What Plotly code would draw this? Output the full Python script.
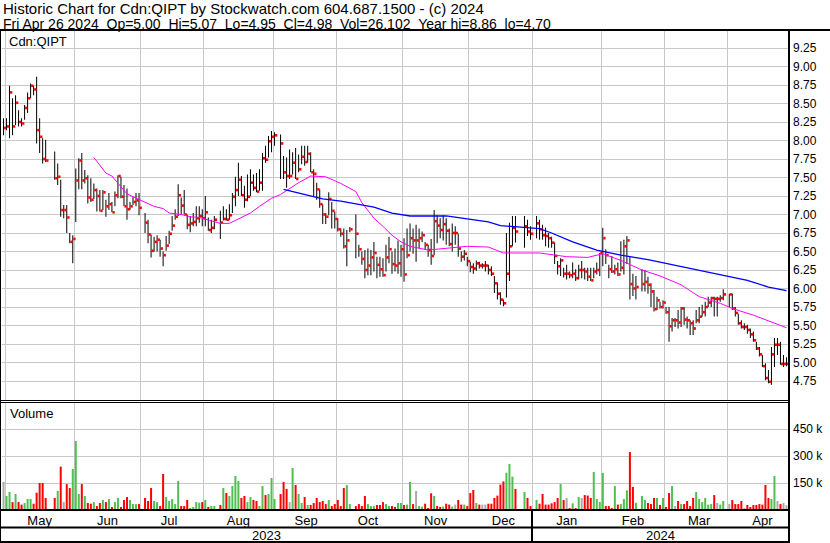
import pandas as pd
import plotly.graph_objects as go

# ---------------- data ----------------
holidays = ["2023-05-22", "2023-07-03", "2023-08-07", "2023-09-04", "2023-10-09",
            "2023-12-25", "2023-12-26", "2024-01-01", "2024-02-19", "2024-03-29"]
trade_days = [d for d in pd.bdate_range("2023-04-28", "2024-04-26")
              if d.strftime("%Y-%m-%d") not in holidays]

high = [
    8.30,
    8.30, 8.74, 8.57, 8.61, 8.41, 8.30, 8.48, 8.65, 8.77, 8.74, 8.86, 8.30, 8.03, 8.01, None, 7.85, 7.69, 7.47, 7.13, 7.13, 6.75, 6.72,
    7.62, 7.76, 7.83, 7.60, 7.53, 7.49, 7.42, 7.35, 7.33, 7.33, 7.20, 7.29, 7.17, 7.31, 7.53, 7.51, 7.40, 7.35, 7.17, 7.24, 7.29, 7.29,
    7.02, 6.93, 6.73, 6.70, 6.72, 6.66, 6.50, 6.71, 6.78, 6.98, 7.07, 7.41, 7.23, 7.33, 7.00, 6.98, 7.02, 7.11, 7.11, 7.07,
    7.25, 6.96, 6.93, 6.98, 7.05, 7.11, 7.07, 7.14, 7.29, 7.51, 7.70, 7.52, 7.39, 7.54, 7.61, 7.54, 7.56, 7.61, 7.83, 7.93, 8.06, 8.13,
    8.11, 8.08, 7.79, 7.77, 7.88, 7.84, 7.90, 7.81, 7.93, 7.93, 7.93, 7.84, 7.61, 7.43, 7.34, 7.14, 7.02, 7.30, 7.17, 7.04,
    6.95, 6.81, 6.81, 6.79, 6.83, 7.00, 6.59, 6.50, 6.52, 6.54, 6.52, 6.63, 6.43, 6.43, 6.41, 6.59, 6.70, 6.50, 6.54, 6.65, 6.59,
    6.68, 6.81, 6.88, 6.81, 6.86, 6.81, 6.77, 6.63, 6.59, 6.67, 7.06, 6.99, 6.95, 6.99, 6.95, 6.81, 6.88, 6.84, 6.74, 6.50, 6.52, 6.43,
    6.36, 6.34, 6.38, 6.36, 6.34, 6.37, 6.32, 6.30, 6.17, 6.08, 5.95, 5.85, 6.75, 6.89, 6.98, 6.98, 6.98, 6.93, 6.84,
    6.98, 6.93, 6.86, 6.82, 6.75, 6.70, 6.62, 6.37, 6.41, 6.28, 6.32, 6.23, 6.35, 6.26, 6.32, 6.37, 6.28, 6.28, 6.28, 6.28, 6.35, 6.48,
    6.82, 6.53, 6.32, 6.44, 6.32, 6.35, 6.64, 6.66, 6.71, 6.44, 6.20, 6.17, 6.26, 6.25, 6.16, 6.07, 5.98, 5.89, 5.82, 5.84,
    5.75, 5.75, 5.60, 5.60, 5.71, 5.75, 5.75, 5.62, 5.57, 5.57, 5.71, 5.75, 5.78, 5.82, 5.89, 5.89, 5.89, 5.89, 5.91, 5.99,
    5.93, 5.93, 5.75, 5.66, 5.57, 5.53, 5.51, 5.46, 5.42, 5.28, 5.21, 5.10, 4.99, 4.90, 5.21, 5.33, 5.33, 5.28, 5.10, 5.07,
]
low = [
    8.07,
    8.14, 8.03, 8.07, 8.21, 8.19, 8.19, 8.28, 8.37, 8.57, 8.61, 7.96, 7.83, 7.69, 7.71, None, 7.47, 7.40, 6.97, 6.95, 6.75, 6.61, 6.34,
    6.90, 7.34, 7.34, 7.42, 7.15, 7.17, 7.21, 7.04, 7.04, 7.06, 6.97, 7.06, 7.03, 7.11, 7.22, 7.22, 7.11, 6.93, 7.06, 7.13, 7.11, 6.99,
    6.75, 6.61, 6.42, 6.50, 6.50, 6.43, 6.30, 6.51, 6.60, 6.78, 6.93, 6.98, 7.00, 7.00, 6.80, 6.76, 6.84, 6.84, 6.89, 6.84,
    6.84, 6.78, 6.75, 6.80, 6.67, 6.92, 6.92, 6.93, 7.02, 7.11, 7.25, 7.25, 7.09, 7.18, 7.25, 7.32, 7.30, 7.32, 7.32, 7.70, 7.77, 7.84,
    7.93, 7.48, 7.48, 7.36, 7.48, 7.54, 7.48, 7.57, 7.68, 7.66, 7.70, 7.57, 7.25, 7.20, 7.09, 6.87, 6.87, 6.99, 6.81, 6.81,
    6.77, 6.70, 6.54, 6.30, 6.76, 6.41, 6.43, 6.32, 6.14, 6.18, 6.18, 6.23, 6.14, 6.16, 6.16, 6.23, 6.34, 6.20, 6.23, 6.20, 6.16,
    6.09, 6.41, 6.50, 6.47, 6.36, 6.54, 6.63, 6.52, 6.43, 6.32, 6.45, 6.61, 6.68, 6.65, 6.59, 6.57, 6.50, 6.59, 6.43, 6.36, 6.38, 6.30,
    6.22, 6.20, 6.24, 6.27, 6.27, 6.23, 6.19, 6.17, 5.94, 5.85, 5.78, 5.76, 5.88, 6.10, 6.57, 6.62, 6.55, 6.71, 6.66,
    6.68, 6.66, 6.66, 6.57, 6.55, 6.55, 6.33, 6.19, 6.17, 6.15, 6.12, 6.14, 6.14, 6.10, 6.12, 6.14, 6.12, 6.10, 6.10, 6.14, 6.19, 6.17,
    6.30, 6.33, 6.14, 6.21, 6.19, 6.17, 6.23, 6.19, 6.33, 5.85, 5.90, 5.85, 5.96, 5.96, 5.93, 5.75, 5.69, 5.71, 5.73, 5.73,
    5.66, 5.28, 5.42, 5.48, 5.46, 5.48, 5.51, 5.46, 5.37, 5.37, 5.53, 5.53, 5.62, 5.62, 5.75, 5.75, 5.62, 5.62, 5.82, 5.84,
    5.75, 5.71, 5.62, 5.51, 5.46, 5.44, 5.39, 5.33, 5.28, 5.17, 5.08, 4.94, 4.76, 4.72, 4.70, 4.94, 5.10, 4.97, 4.94, 4.95,
]
close = [
    8.17,
    8.19, 8.65, 8.19, 8.51, 8.25, 8.23, 8.44, 8.57, 8.74, 8.69, 8.14, 8.05, 7.75, 7.73, None, 7.49, 7.51, 7.06, 7.06, 6.96, 6.63, 6.67,
    7.46, 7.73, 7.46, 7.49, 7.23, 7.20, 7.33, 7.25, 7.05, 7.30, 7.11, 7.14, 7.03, 7.26, 7.52, 7.24, 7.11, 7.07, 7.11, 7.17, 7.19, 7.09,
    6.89, 6.73, 6.51, 6.63, 6.66, 6.54, 6.45, 6.58, 6.74, 6.85, 6.97, 7.26, 7.12, 7.00, 6.86, 6.88, 6.90, 6.95, 6.98, 6.95,
    7.03, 6.79, 6.82, 6.93, 6.89, 6.94, 6.93, 6.99, 7.24, 7.33, 7.47, 7.26, 7.20, 7.24, 7.43, 7.36, 7.31, 7.43, 7.76, 7.74, 7.99, 8.05,
    8.07, 7.96, 7.57, 7.52, 7.52, 7.70, 7.48, 7.61, 7.78, 7.71, 7.82, 7.57, 7.55, 7.34, 7.14, 7.00, 6.97, 7.21, 7.05, 6.94,
    6.80, 6.74, 6.57, 6.65, 6.80, 6.74, 6.53, 6.40, 6.25, 6.31, 6.42, 6.48, 6.32, 6.26, 6.18, 6.42, 6.53, 6.33, 6.31, 6.34, 6.53,
    6.19, 6.45, 6.68, 6.65, 6.65, 6.68, 6.72, 6.59, 6.52, 6.44, 6.91, 6.85, 6.79, 6.87, 6.78, 6.60, 6.75, 6.75, 6.54, 6.43, 6.47, 6.37,
    6.29, 6.27, 6.34, 6.31, 6.31, 6.31, 6.25, 6.20, 6.07, 5.93, 5.85, 5.80, 6.20, 6.57, 6.82, 6.77, 6.84, 6.77, 6.74,
    6.88, 6.80, 6.72, 6.71, 6.68, 6.62, 6.44, 6.30, 6.38, 6.20, 6.20, 6.18, 6.20, 6.14, 6.25, 6.25, 6.23, 6.16, 6.11, 6.23, 6.25, 6.48,
    6.68, 6.45, 6.26, 6.23, 6.26, 6.19, 6.28, 6.57, 6.65, 6.06, 6.00, 6.02, 6.06, 6.09, 6.05, 5.96, 5.72, 5.84, 5.75, 5.81,
    5.68, 5.49, 5.57, 5.57, 5.54, 5.73, 5.58, 5.57, 5.53, 5.46, 5.57, 5.62, 5.68, 5.75, 5.81, 5.87, 5.86, 5.86, 5.87, 5.92,
    5.92, 5.73, 5.67, 5.53, 5.48, 5.48, 5.44, 5.38, 5.30, 5.19, 5.11, 4.95, 4.79, 4.74, 5.11, 5.24, 5.24, 4.98, 4.98, 4.98,
]
volume_k = [
    156,
    78, 100, 44, 89, 44, 30, 39, 61, 61, 35, 96, 150, 150, 67, None, 67, 106, 241, 44, 144, 122, 228,
    383, 89, 144, 78, 39, 35, 44, 22, 39, 56, 44, 61, 17, 44, 67, 17, 56, 72, 56, 33, 33, 33,
    67, 50, 122, 50, 44, 22, 200, 72, 50, 61, 33, 161, 22, 22, 56, 11, 17, 44, 41, 44,
    56, 17, 22, 22, 28, 122, 94, 78, 133, 189, 161, 67, 78, 44, 72, 56, 50, 22, 133, 83, 89, 178,
    61, 89, 156, 117, 44, 233, 139, 89, 39, 72, 28, 28, 39, 67, 44, 50, 33, 56, 22, 33,
    56, 22, 122, 139, 33, 22, 33, 22, 78, 33, 22, 22, 28, 28, 44, 33, 22, 22, 17, 39, 39,
    28, 30, 156, 33, 106, 22, 19, 35, 11, 93, 78, 22, 17, 19, 35, 30, 19, 30, 56, 30, 30, 22,
    94, 111, 39, 30, 30, 30, 35, 35, 67, 80, 141, 159, 207, 256, 185, 117, 100, 67, 22,
    56, 35, 89, 30, 30, 37, 44, 67, 144, 56, 67, 11, 37, 11, 72, 67, 83, 80, 67, 211, 61, 44,
    206, 22, 22, 11, 133, 30, 33, 61, 109, 322, 128, 40, 78, 56, 39, 33, 67, 67, 28, 67,
    17, 94, 133, 22, 50, 33, 33, 50, 22, 67, 100, 61, 44, 67, 30, 33, 83, 39, 30, 50,
    33, 56, 33, 33, 50, 11, 28, 17, 28, 28, 33, 30, 139, 67, 61, 189, 50, 33, 39, 26.102,
]

ma_short_dates = ["2023-06-09", "2023-06-13", "2023-06-15", "2023-06-19", "2023-06-22", "2023-06-26",
                  "2023-06-28", "2023-06-30", "2023-07-05", "2023-07-07", "2023-07-12", "2023-07-14",
                  "2023-07-20", "2023-07-25", "2023-07-28", "2023-08-03", "2023-08-08", "2023-08-11",
                  "2023-08-17", "2023-08-22", "2023-08-25", "2023-08-31", "2023-09-05", "2023-09-08",
                  "2023-09-13", "2023-09-19", "2023-09-20", "2023-09-26", "2023-10-03", "2023-10-10",
                  "2023-10-12", "2023-10-18", "2023-10-23", "2023-10-26", "2023-10-31", "2023-11-03",
                  "2023-11-13", "2023-11-21", "2023-11-30", "2023-12-11", "2023-12-18", "2023-12-27",
                  "2024-01-03", "2024-01-16", "2024-01-25", "2024-02-01", "2024-02-09", "2024-02-20",
                  "2024-02-28", "2024-03-08", "2024-03-18", "2024-03-27", "2024-04-02", "2024-04-11",
                  "2024-04-18", "2024-04-26"]
ma_short_vals = [7.77, 7.67, 7.56, 7.52, 7.38, 7.28, 7.24, 7.20, 7.15, 7.11, 7.08, 7.02, 7.00, 6.97,
                 6.96, 6.91, 6.88, 6.88, 6.96, 7.02, 7.11, 7.22, 7.27, 7.35, 7.43, 7.52, 7.52, 7.51,
                 7.42, 7.31, 7.16, 6.95, 6.84, 6.72, 6.63, 6.57, 6.52, 6.54, 6.57, 6.56, 6.48, 6.48,
                 6.48, 6.43, 6.42, 6.47, 6.38, 6.25, 6.17, 6.05, 5.89, 5.80, 5.73, 5.64, 5.56, 5.47]
ma_long_dates = ["2023-09-06", "2023-09-11", "2023-09-19", "2023-09-25", "2023-10-03", "2023-10-11",
                 "2023-10-18", "2023-10-26", "2023-11-03", "2023-11-15", "2023-11-21", "2023-11-30",
                 "2023-12-11", "2023-12-15", "2023-12-27", "2024-01-03", "2024-01-09", "2024-01-18",
                 "2024-01-30", "2024-02-09", "2024-02-22", "2024-03-05", "2024-03-18", "2024-03-28",
                 "2024-04-09", "2024-04-18", "2024-04-26"]
ma_long_vals = [7.34, 7.31, 7.26, 7.21, 7.18, 7.14, 7.10, 7.02, 6.98, 6.98, 6.98, 6.94, 6.90, 6.85,
                6.83, 6.81, 6.75, 6.63, 6.52, 6.45, 6.39, 6.32, 6.25, 6.17, 6.11, 6.02, 5.97]

price_ticks = [4.75, 5.00, 5.25, 5.50, 5.75, 6.00, 6.25, 6.50, 6.75, 7.00, 7.25, 7.50, 7.75, 8.00,
               8.25, 8.50, 8.75, 9.00, 9.25]
vol_ticks = [150000, 300000, 450000]
vol_tick_text = ["150 k", "300 k", "450 k"]

title1 = "Historic Chart for Cdn:QIPT by Stockwatch.com 604.687.1500 - (c) 2024"
title2 = ("Fri Apr 26 2024\u00a0\u00a0Op=5.00\u00a0\u00a0Hi=5.07\u00a0\u00a0Lo=4.95\u00a0\u00a0Cl=4.98"
          "\u00a0\u00a0Vol=26,102\u00a0\u00a0Year hi=8.86\u00a0\u00a0lo=4.70")

# ---------------- build ----------------
n = min(len(trade_days), len(high), len(low), len(close), len(volume_k))
if not (len(trade_days) == len(high) == len(low) == len(close) == len(volume_k)):
    print("length mismatch", len(trade_days), len(high), len(low), len(close), len(volume_k))
DAY = 86400000.0
PX = 3.011  # approx pixels per slot (for mark sizes)
xs = [d + pd.Timedelta(hours=12) for d in trade_days[:n]]
rng = [(h - l) if (h is not None and l is not None) else None for h, l in zip(high[:n], low[:n])]
TICK_H = 2.6 / 74.0
tick_base = [(c - TICK_H / 2) if c is not None else None for c in close[:n]]
tick_len = [TICK_H if c is not None else None for c in close[:n]]
vols = [(v * 1000 if v is not None else None) for v in volume_k[:n]]

GREEN, RED, GRAY = "rgba(80,190,80,0.999)", "rgba(255,0,0,0.999)", "rgba(170,170,170,0.999)"
vcol = []
prev = None
for c in close[:n]:
    if c is None or prev is None:
        vcol.append(GRAY)
    elif c > prev + 1e-9:
        vcol.append(GREEN)
    elif c < prev - 1e-9:
        vcol.append(RED)
    else:
        vcol.append(GRAY)
    if c is not None:
        prev = c

noon = lambda lst: [pd.Timestamp(d) + pd.Timedelta(hours=12) for d in lst]

fig = go.Figure()
fig.add_trace(go.Bar(x=xs, y=rng, base=low[:n], width=DAY / PX,
                     marker=dict(color="rgba(0,0,0,0.999)", line=dict(width=0)),
                     xaxis="x", yaxis="y", hoverinfo="skip"))
fig.add_trace(go.Bar(x=xs, y=tick_len, base=tick_base, width=2.3 * DAY / PX, offset=0.5 * DAY / PX,
                     marker=dict(color="rgba(255,0,0,0.999)", line=dict(width=0)),
                     xaxis="x", yaxis="y", hoverinfo="skip"))
fig.add_trace(go.Scatter(x=noon(ma_short_dates), y=ma_short_vals, mode="lines",
                         line=dict(color="#ff00ff", width=1), xaxis="x", yaxis="y", hoverinfo="skip"))
fig.add_trace(go.Scatter(x=noon(ma_long_dates), y=ma_long_vals, mode="lines",
                         line=dict(color="#0000ff", width=1.3), xaxis="x", yaxis="y", hoverinfo="skip"))
fig.add_trace(go.Bar(x=xs, y=vols, width=2 * DAY / PX,
                     marker=dict(color=vcol, line=dict(width=0)),
                     xaxis="x2", yaxis="y2", hoverinfo="skip"))

W, H = 830, 543
L, R, T, B = 2, 42, 31, 33
PW, PH = W - L - R, H - T - B
px = lambda p: (p - L) / PW
py = lambda p: (H - B - p) / PH

GRID = "#c8c8c8"
FONT = "Liberation Sans, Arial, sans-serif"
xcommon = dict(type="date", range=["2023-04-28 00:00", "2024-04-26 23:59"],
               rangebreaks=[dict(bounds=["sat", "mon"])], dtick="M1", tick0="2023-05-01",
               showgrid=True, gridcolor=GRID, gridwidth=1, zeroline=False, showline=False,
               ticks="", fixedrange=True)

fig.update_layout(
    width=W, height=H, margin=dict(l=L, r=R, t=T, b=B, autoexpand=False),
    paper_bgcolor="white", plot_bgcolor="white", showlegend=False, barmode="overlay",
    hovermode=False, font=dict(family=FONT, size=13, color="black"),
    xaxis=dict(xcommon, domain=[0, 1], anchor="y", showticklabels=False),
    xaxis2=dict(xcommon, domain=[0, 1], anchor="y2", matches="x", showticklabels=True,
                ticklabelmode="period", tickformat="%b",
                tickfont=dict(family=FONT, size=13, color="black"), ticklabelstandoff=1),
    yaxis=dict(domain=[py(400), 1], range=[9.25 - (400 - 48) / 74, 9.25 + (48 - T) / 74],
               side="right", anchor="x", tickvals=price_ticks,
               ticktext=[f"{v:.2f}" for v in price_ticks], showgrid=True, gridcolor=GRID,
               zeroline=False, showline=False, ticks="", ticklabelstandoff=4,
               tickfont=dict(family=FONT, size=12, color="black"), fixedrange=True),
    yaxis2=dict(domain=[0, py(402)], range=[0, 600000], side="right", anchor="x2",
                tickvals=vol_ticks, ticktext=vol_tick_text, showgrid=True, gridcolor=GRID,
                zeroline=False, showline=False, ticks="", ticklabelstandoff=4,
                tickfont=dict(family=FONT, size=12, color="black"), fixedrange=True),
)

shapes = []
def hline(y, x0=0, x1=789, w=1):
    shapes.append(dict(type="line", xref="paper", yref="paper", x0=px(x0), x1=px(x1),
                       y0=py(y), y1=py(y), line=dict(color="black", width=w)))
def vline(x, y0, y1, w=1):
    shapes.append(dict(type="line", xref="paper", yref="paper", x0=px(x), x1=px(x),
                       y0=py(y0), y1=py(y1), line=dict(color="black", width=w)))

hline(30, 0, 830, 2)
hline(400.5)
hline(402.5)
hline(510, w=2)
hline(527.5, w=2)
hline(542, w=2)
vline(0.5, 30, 543, 1)
vline(789, 30, 543, 2)
shapes.append(dict(type="line", xref="x", yref="paper", x0="2024-01-01", x1="2024-01-01",
                   y0=py(510), y1=py(543), line=dict(color="black", width=2)))
fig.update_layout(shapes=shapes)

ann = []
def text(s, x, y, anchor="left", size=13):
    ann.append(dict(text=s, xref="paper", yref="paper", x=px(x), y=py(y), xanchor=anchor,
                    yanchor="middle", showarrow=False, font=dict(family=FONT, size=size, color="black")))
text(title1, 1, 9, size=15)
text(title2, 1, 24, size=14)
text("Cdn:QIPT", 7, 41)
text("Volume", 8, 413)
text("2023", 266, 535, "center")
text("2024", 660, 535, "center")
fig.update_layout(annotations=ann)

fig.write_html("out.html", config=dict(displayModeBar=False),
               post_script="document.body.style.margin='0px';document.body.style.overflow='hidden';")
